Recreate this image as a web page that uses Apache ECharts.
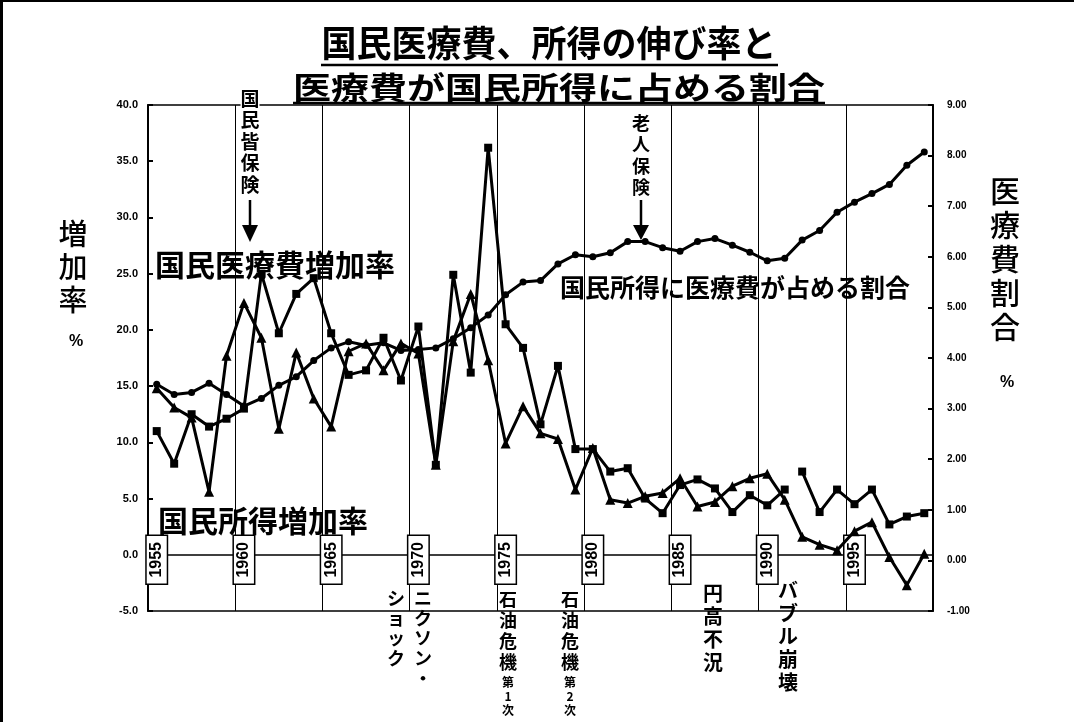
<!DOCTYPE html>
<html>
<head>
<meta charset="utf-8">
<script src="https://cdn.jsdelivr.net/npm/echarts@6/dist/echarts.min.js"></script>
<style>
  html, body { margin: 0; padding: 0; background: #fff; }
  #main { width: 1074px; height: 722px; box-sizing: border-box; border-left: 3px solid #000; border-top: 2px solid #000; }
</style>
</head>
<body>
<div id="main"></div>
<script>
// 1955 - 1999 (年度)
const years = Array.from({ length: 45 }, (_, i) => String(1955 + i))

// 国民医療費増加率 (%)
const medGrowth = [
  11.0, 8.1, 12.5, 11.4, 12.1, 13.0, 25.0, 19.7, 23.2, 24.6,
  19.7, 16.0, 16.4, 19.3, 15.5, 20.3, 8.0, 24.9, 16.2, 36.2,
  20.5, 18.4, 11.6, 16.8, 9.4, 9.4, 7.4, 7.7, 5.0, 3.7,
  6.2, 6.7, 5.9, 3.8, 5.3, 4.4, 5.8, 7.4, 3.8, 5.8,
  4.5, 5.8, 2.7, 3.4, 3.7
]
// 国民所得増加率 (%)
const incomeGrowth = [
  14.8, 13.1, 12.2, 5.6, 17.7, 22.4, 19.3, 11.2, 18.0, 13.9,
  11.4, 18.1, 18.8, 16.4, 18.8, 17.9, 8.0, 19.0, 23.2, 17.3,
  9.9, 13.2, 10.8, 10.3, 5.8, 9.5, 4.9, 4.6, 5.2, 5.5,
  6.8, 4.3, 4.7, 6.1, 6.8, 7.2, 4.9, 1.6, 0.9, 0.4,
  2.1, 2.9, -0.2, -2.7, 0.1
]
// 国民所得に医療費が占める割合 (%)
const medShare = [
  3.48, 3.28, 3.32, 3.50, 3.28, 3.05, 3.20, 3.46, 3.63, 3.95,
  4.20, 4.32, 4.25, 4.30, 4.15, 4.17, 4.20, 4.38, 4.60, 4.85,
  5.25, 5.50, 5.53, 5.86, 6.04, 6.00, 6.08, 6.30, 6.30, 6.18,
  6.11, 6.30, 6.36, 6.23, 6.09, 5.92, 5.97, 6.33, 6.52, 6.88,
  7.08, 7.25, 7.43, 7.81, 8.07
]
// 医療費系列は1991と1992の間で途切れている
const medBreak = '1992'

const cjk = '"Noto Sans CJK JP", sans-serif'
const num = '"Liberation Sans Narrow", "Liberation Sans", Arial, sans-serif'
const vert = (s) => s.split('').join('\n')

const breakIdx = years.indexOf(medBreak)
const medA = medGrowth.map((v, i) => (i < breakIdx ? v : null))
const medB = medGrowth.map((v, i) => (i >= breakIdx ? v : null))

const lineSeries = (name, data, symbol, size, yAxisIndex) => ({
  name,
  type: 'line',
  data,
  yAxisIndex,
  symbol,
  symbolSize: size,
  connectNulls: false,
  lineStyle: { color: '#000', width: 3 },
  itemStyle: { color: '#000' },
  z: 3
})

const chart = echarts.init(document.getElementById('main'))
const option = {
  animation: false,
  backgroundColor: '#fff',
  grid: {
    left: 145, right: 141, top: 103, bottom: 111,
    show: true, borderColor: '#000', borderWidth: 1.5, backgroundColor: 'transparent'
  },
  xAxis: {
    type: 'category',
    data: years,
    boundaryGap: true,
    axisLine: { onZero: true, onZeroAxisIndex: 0, lineStyle: { color: '#000', width: 1.5 } },
    axisTick: { show: false },
    splitLine: { show: true, interval: 4, lineStyle: { color: '#000', width: 1 } },
    axisLabel: {
      interval: 4,
      rotate: 90,
      // the labels sit across the zero line, not under the frame
      margin: -75,
      color: '#000',
      fontFamily: num,
      fontWeight: 'bold',
      fontSize: 16,
      backgroundColor: '#fff',
      borderColor: '#000',
      borderWidth: 1.5,
      padding: [2, 6, 2, 6]
    },
    z: 1
  },
  yAxis: [
    {
      type: 'value',
      position: 'left',
      min: -5,
      max: 40,
      interval: 5,
      axisLine: { show: true, lineStyle: { color: '#000', width: 2 } },
      axisTick: { show: true, inside: true, length: 5, lineStyle: { color: '#000', width: 2 } },
      axisLabel: { formatter: (v) => v.toFixed(1), color: '#000', fontFamily: num, fontWeight: 'bold', fontSize: 11, margin: 10 },
      splitLine: { show: false }
    },
    {
      type: 'value',
      position: 'right',
      min: -1,
      max: 9,
      interval: 1,
      axisLine: { show: true, lineStyle: { color: '#000', width: 2 } },
      axisTick: { show: true, inside: true, length: 5, lineStyle: { color: '#000', width: 2 } },
      axisLabel: { formatter: (v) => v.toFixed(2), color: '#000', fontFamily: num, fontWeight: 'bold', fontSize: 10, margin: 14 },
      splitLine: { show: false }
    }
  ],
  series: [
    lineSeries('国民医療費増加率', medA, 'rect', 8, 0),
    lineSeries('国民医療費増加率', medB, 'rect', 8, 0),
    lineSeries('国民所得増加率', incomeGrowth, 'triangle', 10, 0),
    lineSeries('国民所得に医療費が占める割合', medShare, 'circle', 7, 1)
  ],
  graphic: [
    // title
    { type: 'text', x: 546, y: 41, scaleY: 1.05, style: { text: '国民医療費、所得の伸び率と', font: `bold 35px ${cjk}`, fill: '#000', align: 'center', verticalAlign: 'middle' } },
    { type: 'line', shape: { x1: 318, y1: 63, x2: 775, y2: 63 }, style: { stroke: '#000', lineWidth: 2.5 } },
    { type: 'text', x: 556, y: 85, scaleY: 0.82, style: { text: '医療費が国民所得に占める割合', font: `bold 38px ${cjk}`, fill: '#000', align: 'center', verticalAlign: 'middle' } },
    { type: 'line', shape: { x1: 290, y1: 101, x2: 822, y2: 101 }, style: { stroke: '#000', lineWidth: 2.5 } },
    // axis names
    { type: 'text', x: 70, y: 265, style: { text: vert('増加率'), font: `500 29px ${cjk}`, lineHeight: 33, fill: '#000', align: 'center', verticalAlign: 'middle' } },
    { type: 'text', x: 73, y: 340, style: { text: '%', font: `bold 16px ${num}`, fill: '#000', align: 'center', verticalAlign: 'middle' } },
    { type: 'text', x: 1002, y: 257, style: { text: vert('医療費割合'), font: `500 30px ${cjk}`, lineHeight: 34, fill: '#000', align: 'center', verticalAlign: 'middle' } },
    { type: 'text', x: 1004, y: 381, style: { text: '%', font: `bold 16px ${num}`, fill: '#000', align: 'center', verticalAlign: 'middle' } },
    // series labels
    { type: 'text', x: 151, y: 263, z: 1, style: { text: '国民医療費増加率', font: `bold 30px ${cjk}`, fill: '#000', backgroundColor: '#fff', padding: [0, 2, 0, 1], verticalAlign: 'middle' } },
    { type: 'text', x: 155, y: 519, z: 1, style: { text: '国民所得増加率', font: `bold 30px ${cjk}`, fill: '#000', verticalAlign: 'middle' } },
    { type: 'text', x: 557, y: 285, z: 1, style: { text: '国民所得に医療費が占める割合', font: `bold 25px ${cjk}`, fill: '#000', verticalAlign: 'middle' } },
    // event arrows
    { type: 'text', x: 247, y: 86, z: 4, style: { text: vert('国民皆保険'), font: `bold 19px ${cjk}`, lineHeight: 21.5, fill: '#000', align: 'center', verticalAlign: 'top', backgroundColor: '#fff' } },
    { type: 'line', shape: { x1: 247, y1: 198, x2: 247, y2: 225 }, style: { stroke: '#000', lineWidth: 2.5 } },
    { type: 'polygon', shape: { points: [[239, 223], [255, 223], [247, 240]] }, style: { fill: '#000' } },
    { type: 'text', x: 638, y: 110, z: 4, style: { text: vert('老人保険'), font: `bold 18px ${cjk}`, lineHeight: 21.5, fill: '#000', align: 'center', verticalAlign: 'top' } },
    { type: 'line', shape: { x1: 638, y1: 198, x2: 638, y2: 225 }, style: { stroke: '#000', lineWidth: 2.5 } },
    { type: 'polygon', shape: { points: [[630, 223], [646, 223], [638, 238]] }, style: { fill: '#000' } },
    // bottom events
    { type: 'text', x: 420, y: 586, style: { text: vert('ニクソン・'), font: `bold 18px ${cjk}`, lineHeight: 20, fill: '#000', align: 'center', verticalAlign: 'top' } },
    { type: 'text', x: 393, y: 586, style: { text: vert('ショック'), font: `bold 18px ${cjk}`, lineHeight: 20, fill: '#000', align: 'center', verticalAlign: 'top' } },
    { type: 'text', x: 505, y: 587, style: { text: vert('石油危機'), font: `bold 18px ${cjk}`, lineHeight: 21, fill: '#000', align: 'center', verticalAlign: 'top' } },
    { type: 'text', x: 505, y: 673, style: { text: vert('第1次'), font: `bold 12px ${cjk}`, lineHeight: 14, fill: '#000', align: 'center', verticalAlign: 'top' } },
    { type: 'text', x: 567, y: 587, style: { text: vert('石油危機'), font: `bold 18px ${cjk}`, lineHeight: 21, fill: '#000', align: 'center', verticalAlign: 'top' } },
    { type: 'text', x: 567, y: 673, style: { text: vert('第2次'), font: `bold 12px ${cjk}`, lineHeight: 14, fill: '#000', align: 'center', verticalAlign: 'top' } },
    { type: 'text', x: 710, y: 580, style: { text: vert('円高不況'), font: `bold 20px ${cjk}`, lineHeight: 23, fill: '#000', align: 'center', verticalAlign: 'top' } },
    { type: 'text', x: 785, y: 577, style: { text: vert('バブル崩壊'), font: `bold 20px ${cjk}`, lineHeight: 23, fill: '#000', align: 'center', verticalAlign: 'top' } }
  ]
}
chart.setOption(option)
</script>
</body>
</html>
